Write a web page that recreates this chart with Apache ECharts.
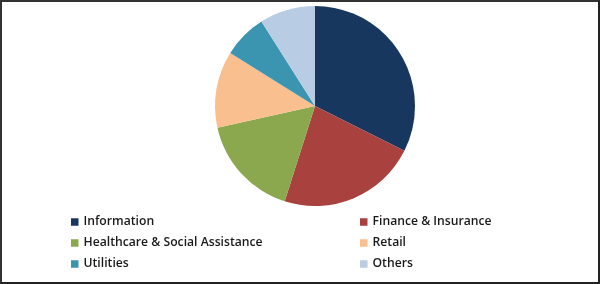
<!DOCTYPE html>
<html><head><meta charset="utf-8">
<script src="https://cdn.jsdelivr.net/npm/echarts@6/dist/echarts.min.js"></script>
<style>html,body{margin:0;padding:0;background:#fff}#c{width:600px;height:284px;box-sizing:border-box;border:2px solid #333;border-right-color:#222;border-bottom-color:#222}</style>
</head><body><div id="c"></div>
<script>
var categories = ['Information','Finance & Insurance','Healthcare & Social Assistance','Retail','Utilities','Others'];
var values = [32.4, 22.5, 16.6, 12.4, 7.1, 9.0];
var colors = ['#17375E','#A9413F','#8CA84F','#F9BF8F','#3B95B0','#B8CCE4'];
var col1 = ['Information','Healthcare & Social Assistance','Utilities'];
var col2 = ['Finance & Insurance','Retail','Others'];
var chart = echarts.init(document.getElementById('c'), null, {renderer:'canvas'});
var legendText = {fontFamily:'Open Sans', fontSize:12.2, fontWeight:600, color:'#1a1a1a', lineHeight:14};
chart.setOption({
  animation:false,
  color: colors,
  legend:[
    {orient:'vertical', left:64, top:208, itemWidth:7.5, itemHeight:7.5, itemGap:7, icon:'rect', data:col1, textStyle:legendText, selectedMode:false},
    {orient:'vertical', left:353, top:208, itemWidth:7.5, itemHeight:7.5, itemGap:7, icon:'rect', data:col2, textStyle:legendText, selectedMode:false}
  ],
  series:[{
    type:'pie', center:[313,104], radius:100, startAngle:90, clockwise:true,
    label:{show:false}, labelLine:{show:false}, silent:true,
    itemStyle:{borderWidth:0},
    data: categories.map(function(n,i){return {name:n, value:values[i]};})
  }]
});
</script></body></html>
